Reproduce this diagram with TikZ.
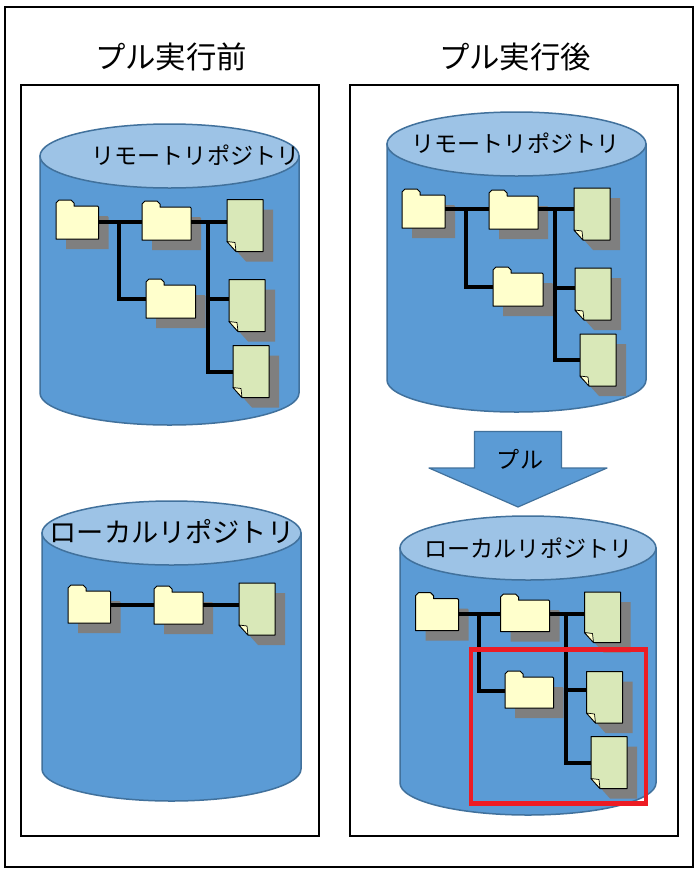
\documentclass[tikz,border=0pt]{standalone}
\usepackage{fontspec}
\setmainfont{Noto Sans CJK JP}
\definecolor{cylbody}{HTML}{5B9BD5}
\definecolor{cyltop}{HTML}{9DC3E6}
\definecolor{cylline}{HTML}{41719C}
\definecolor{foldfill}{HTML}{FFFFCC}
\definecolor{docfill}{HTML}{D9E8B8}
\definecolor{shadowgray}{HTML}{7F7F7F}
\definecolor{redbox}{HTML}{ED1C24}
\tikzset{
  panel/.style={draw=black,line width=1.5pt,fill=white},
  cylside/.style={draw=cylline,line width=1.5pt,fill=cylbody},
  cyllid/.style={draw=cylline,line width=1.5pt,fill=cyltop},
  itemline/.style={draw=black,line width=1pt,line join=round},
  shade/.style={fill=shadowgray},
  tree/.style={draw=black,line width=4pt},
  titlelab/.style={font=\fontsize{30.4}{33}\selectfont,inner sep=0pt},
  smalllab/.style={font=\fontsize{23.1}{26}\selectfont,inner sep=0pt},
  biglab/.style={font=\fontsize{27.2}{30}\selectfont,inner sep=0pt},
}
% name, x, y, w, h
\newcommand{\folderpath}[4]{(#1,#2+#4) -- (#1,#2+3) -- (#1+3,#2) -- (#1+15,#2) -- (#1+18,#2+3) -- (#1+18,#2+6) -- (#1+#3-1,#2+6) -- (#1+#3,#2+7) -- (#1+#3,#2+#4) -- cycle}
\newcommand{\folderitem}[5]{%
  \fill[shade,shift={(10pt,-10pt)}] \folderpath{#2}{#3}{#4}{#5};
  \path[itemline,fill=foldfill] \folderpath{#2}{#3}{#4}{#5};
  \node[inner sep=0pt,outer sep=0pt,minimum width=#4pt,minimum height=#5pt] (#1) at (#2+#4/2,#3+#5/2) {};
}
\newcommand{\docpath}[4]{(#1,#2) -- (#1+#3,#2) -- (#1+#3,#2+#4) -- (#1+9,#2+#4) -- (#1,#2+#4-10) -- cycle}
\newcommand{\docitem}[5]{%
  \fill[shade,shift={(10pt,-10pt)}] \docpath{#2}{#3}{#4}{#5};
  \path[itemline,fill=docfill] \docpath{#2}{#3}{#4}{#5};
  \path[itemline,fill=foldfill,line width=.7pt] (#2,#3+#5-10) -- (#2+8,#3+#5-9) -- (#2+9,#3+#5) -- cycle;
  \node[inner sep=0pt,outer sep=0pt,minimum width=#4pt,minimum height=#5pt] (#1) at (#2+#4/2,#3+#5/2) {};
}
% name, x1, x2, ytop(of lid), ybottom(of body)
\newcommand{\cyl}[5]{%
  \pgfmathsetmacro{\xm}{(#2+#3)/2}\pgfmathsetmacro{\rx}{(#3-#2)/2}
  \pgfmathsetmacro{\ylid}{#4+32}\pgfmathsetmacro{\yb}{#5-32}
  \pgfmathsetmacro{\kx}{\rx*0.5523}
  \path[cylside] (#2,\ylid) -- (#2,\yb)
    .. controls (#2,\yb+17.7) and (\xm-\kx,#5) .. (\xm,#5)
    .. controls (\xm+\kx,#5) and (#3,\yb+17.7) .. (#3,\yb)
    -- (#3,\ylid) -- cycle;
  \path[cyllid] (\xm,\ylid) ellipse [x radius=\rx pt,y radius=32pt];
  \node[inner sep=0pt,minimum size=0pt] (#1) at (\xm,\ylid) {};
}
\begin{document}
\begin{tikzpicture}[x=1pt,y=-1pt]
\useasboundingbox (0,0) rectangle (700,876);
\fill[white] (0,0) rectangle (700,876);
\node[draw=black,line width=1.5pt,inner sep=0pt,outer sep=0pt,minimum width=688pt,minimum height=860pt] (outer) at (349,437) {};
\node[panel,inner sep=0pt,outer sep=0pt,minimum width=298pt,minimum height=751pt] (leftpanel) at (170,460.5) {};
\node[panel,inner sep=0pt,outer sep=0pt,minimum width=328pt,minimum height=751pt] (rightpanel) at (514,460.5) {};
\node[titlelab] (t1) at (171,57) {プル実行前};
\node[titlelab] (t2) at (515,57) {プル実行後};

% ---- left top
\cyl{c1}{40}{299}{124}{425}
\node[smalllab] (c1lab) at (195.5,155) {リモートリポジトリ};
\folderitem{a1}{56}{200}{42.5}{39}
\folderitem{a2}{142}{201}{49}{39}
\folderitem{a3}{146}{279}{49.5}{39}
\docitem{a4}{227}{199.5}{36}{52}
\docitem{a5}{229}{279.5}{36}{52}
\docitem{a6}{233}{345.5}{36}{52}
\coordinate (a7) at (119,222);
\coordinate (a8) at (208,222);
\draw[tree] (a1.east |- a7) -- (a2.west |- a7);
\draw[tree] (a2.east |- a8) -- (a4.west |- a8);
\draw[tree] (a7) -- (119,299) -- (a3.west |- 0,299);
\draw[tree] (a8) -- (208,372) -- (a6.west |- 0,372);
\draw[tree] (208,299) -- (a5.west |- 0,299);

% ---- left bottom
\cyl{c2}{42}{301}{501}{801}
\node[biglab] (c2lab) at (172,532) {ローカルリポジトリ};
\folderitem{b1}{68}{585}{42.5}{38}
\folderitem{b2}{154}{586}{49}{38}
\docitem{b3}{239}{583}{36}{52}
\coordinate (b4) at (111,605);
\draw[tree] (b1.east |- b4) -- (b2.west |- b4);
\draw[tree] (b2.east |- b4) -- (b3.west |- b4);

% ---- right top
\cyl{c3}{387}{646}{112}{412}
\node[smalllab] (c3lab) at (515.5,143) {リモートリポジトリ};
\folderitem{d1}{402}{189}{43}{39}
\folderitem{d2}{489}{190}{49}{39}
\folderitem{d3}{493}{267}{50}{39}
\docitem{d4}{574}{188}{36}{52}
\docitem{d5}{575}{268}{36}{52}
\docitem{d6}{580}{334}{36}{52}
\coordinate (d7) at (466,209);
\coordinate (d8) at (555,209);
\draw[tree] (d1.east |- d7) -- (d2.west |- d7);
\draw[tree] (d2.east |- d8) -- (d4.west |- d8);
\draw[tree] (d7) -- (466,287) -- (d3.west |- 0,287);
\draw[tree] (d8) -- (555,360) -- (d6.west |- 0,360);
\draw[tree] (555,288) -- (d5.west |- 0,288);

% ---- arrow
\path[draw=cylline,line width=1.2pt,line join=round,fill=cylbody] (474.5,431.5) -- (561.5,431.5) -- (561.5,468) -- (607,468) -- (518,507) -- (429,468) -- (474.5,468) -- cycle;
\node[smalllab] (arrowlab) at (520,459) {プル};

% ---- right bottom
\cyl{c4}{400}{656}{516}{815}
\node[smalllab] (c4lab) at (528.5,548) {ローカルリポジトリ};
\folderitem{e1}{415.5}{592.7}{43}{38}
\folderitem{e2}{500.5}{594}{49}{37.5}
\folderitem{e3}{505}{671}{48.5}{37}
\docitem{e4}{584.5}{592}{36}{50.5}
\docitem{e5}{586.5}{671.5}{36}{51.5}
\docitem{e6}{591}{736.5}{36}{52}
\coordinate (e7) at (479,613.5);
\coordinate (e8) at (565.5,613.5);
\draw[tree] (e1.east |- e7) -- (e2.west |- e7);
\draw[tree] (e2.east |- e8) -- (e4.west |- e8);
\draw[tree] (e7) -- (479,691) -- (e3.west |- 0,691);
\draw[tree] (e8) -- (565.5,763) -- (e6.west |- 0,763);
\draw[tree] (565.5,690) -- (e5.west |- 0,690);

\node[draw=redbox,line width=4.6pt,inner sep=0pt,outer sep=0pt,minimum width=175pt,minimum height=154pt] (redrect) at (558.5,726.5) {};
\end{tikzpicture}
\end{document}
